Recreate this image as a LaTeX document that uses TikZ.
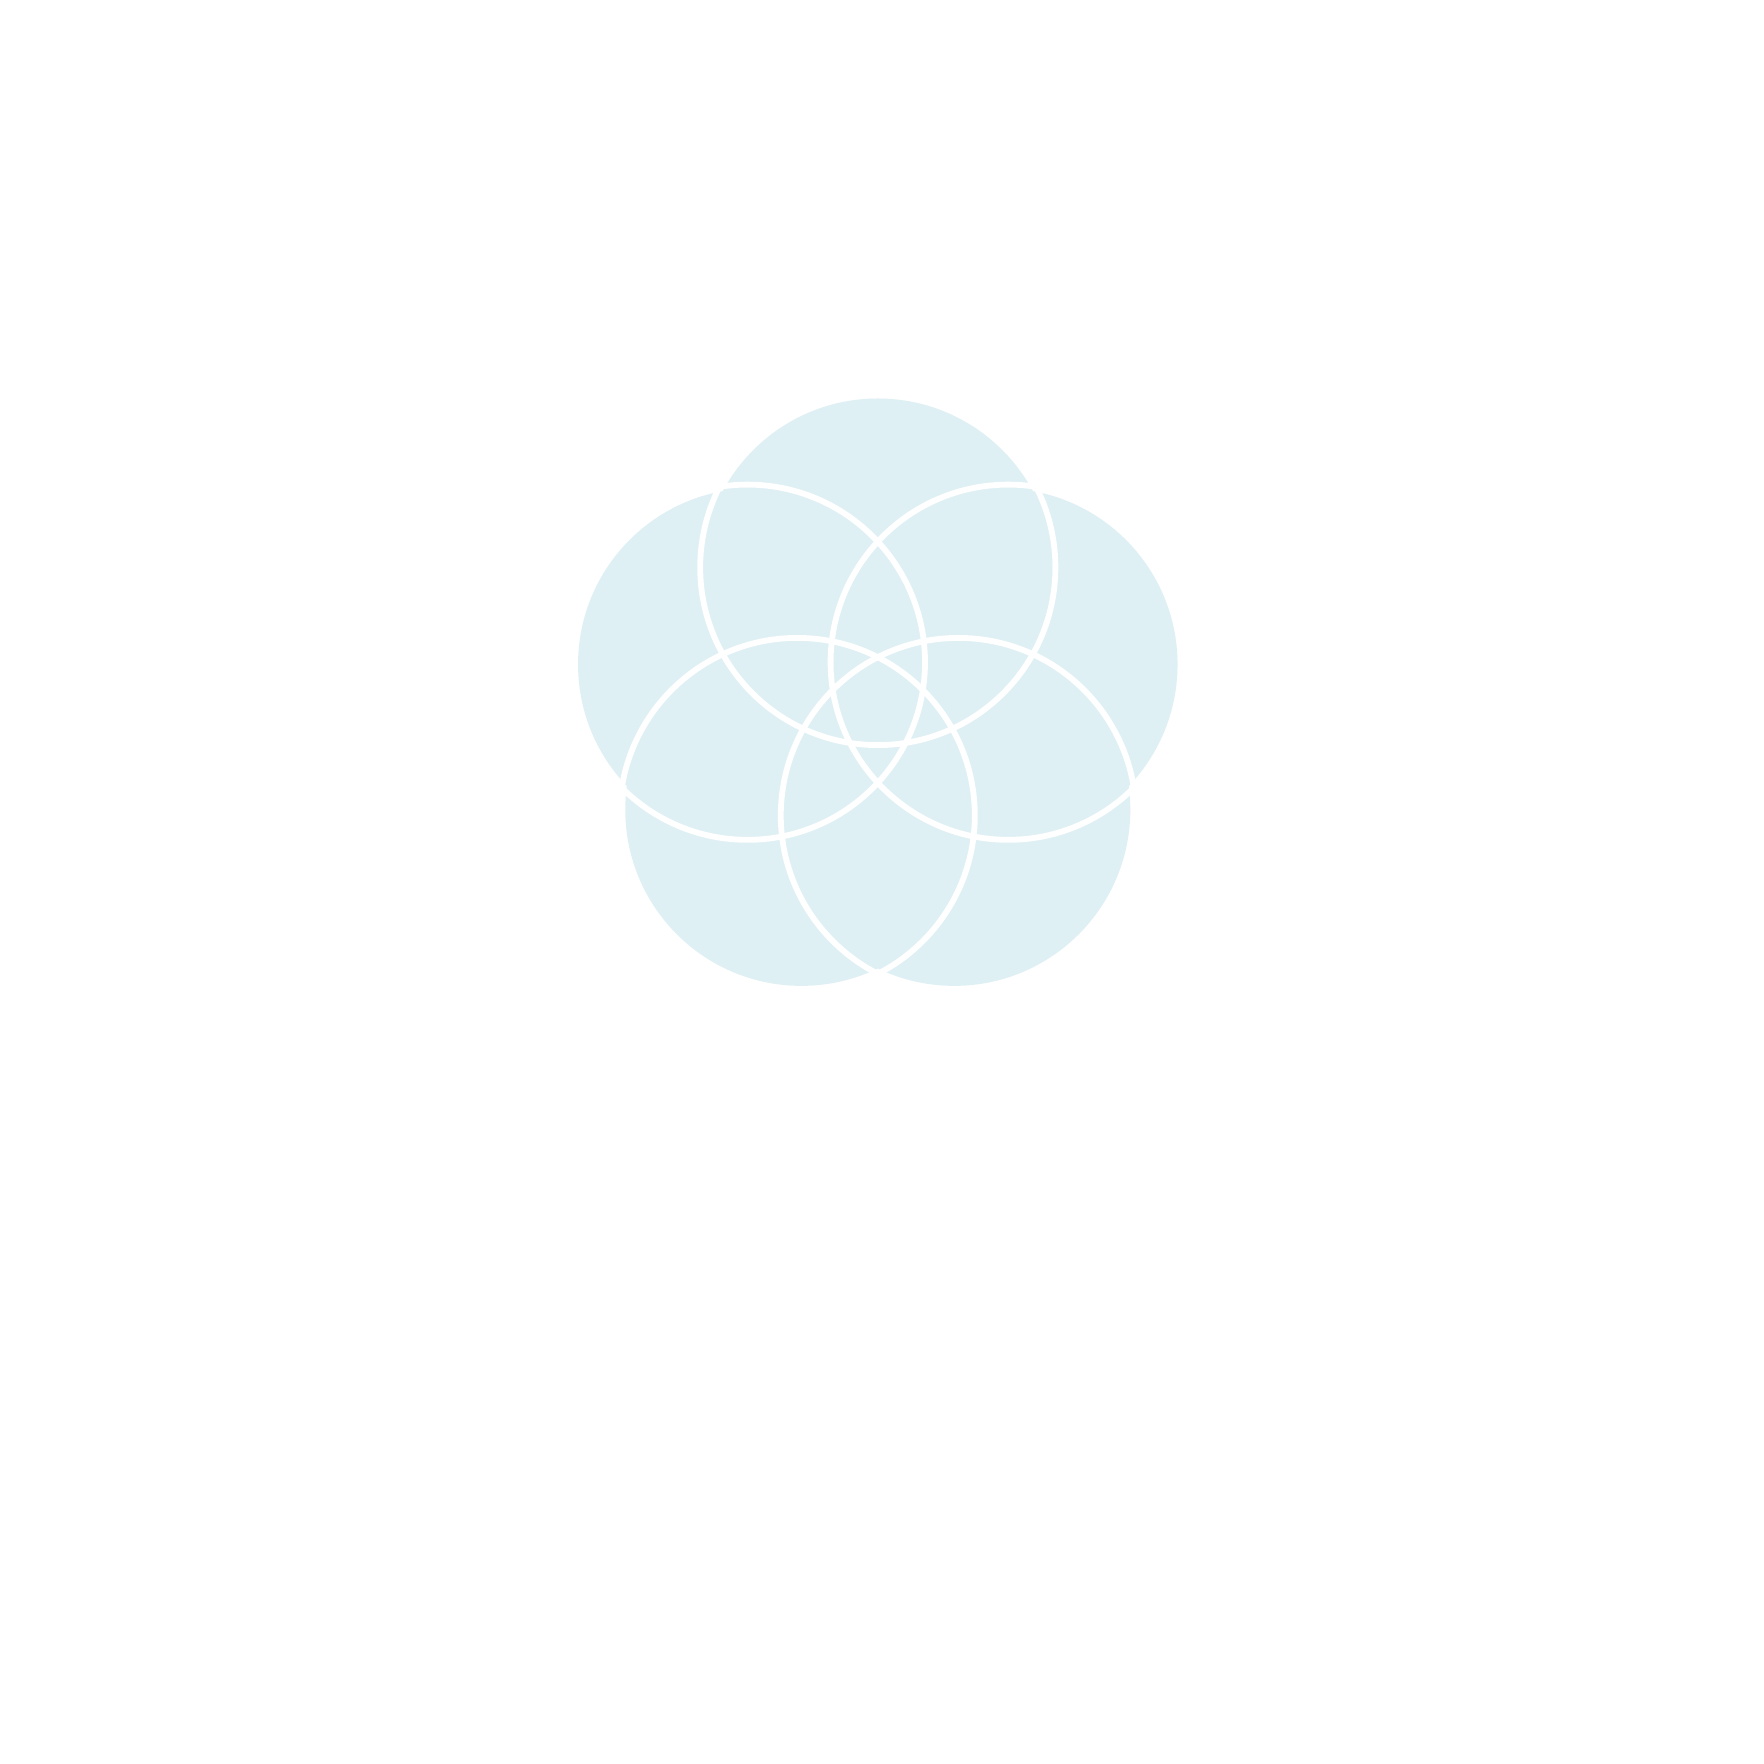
\documentclass[tikz,border=0pt]{standalone}
\usepackage{tikz}
\definecolor{petalblue}{RGB}{223,240,245}
\tikzset{
  petal/.style={fill=petalblue, draw=none},
  ring/.style={draw=white, line width=0.058cm, fill=none}
}
\begin{document}
\begin{tikzpicture}[x=0.01cm,y=0.01cm]
  \useasboundingbox (-877.8,-1059.4) rectangle (886.2,704.6);
  \fill[white] (-877.8,-1059.4) rectangle (886.2,704.6);
  \foreach \a [count=\i] in {90,162,234,306,18} {
    \coordinate (f\i) at (\a:130);
    \coordinate (c\i) at (\a:137.1);
  }
  \foreach \i in {1,...,5} {
    \path[petal] (f\i) circle[radius=1.76cm];
  }
  \foreach \i in {1,...,5} {
    \path[ring] (c\i) circle[radius=1.775cm];
  }
\end{tikzpicture}
\end{document}
